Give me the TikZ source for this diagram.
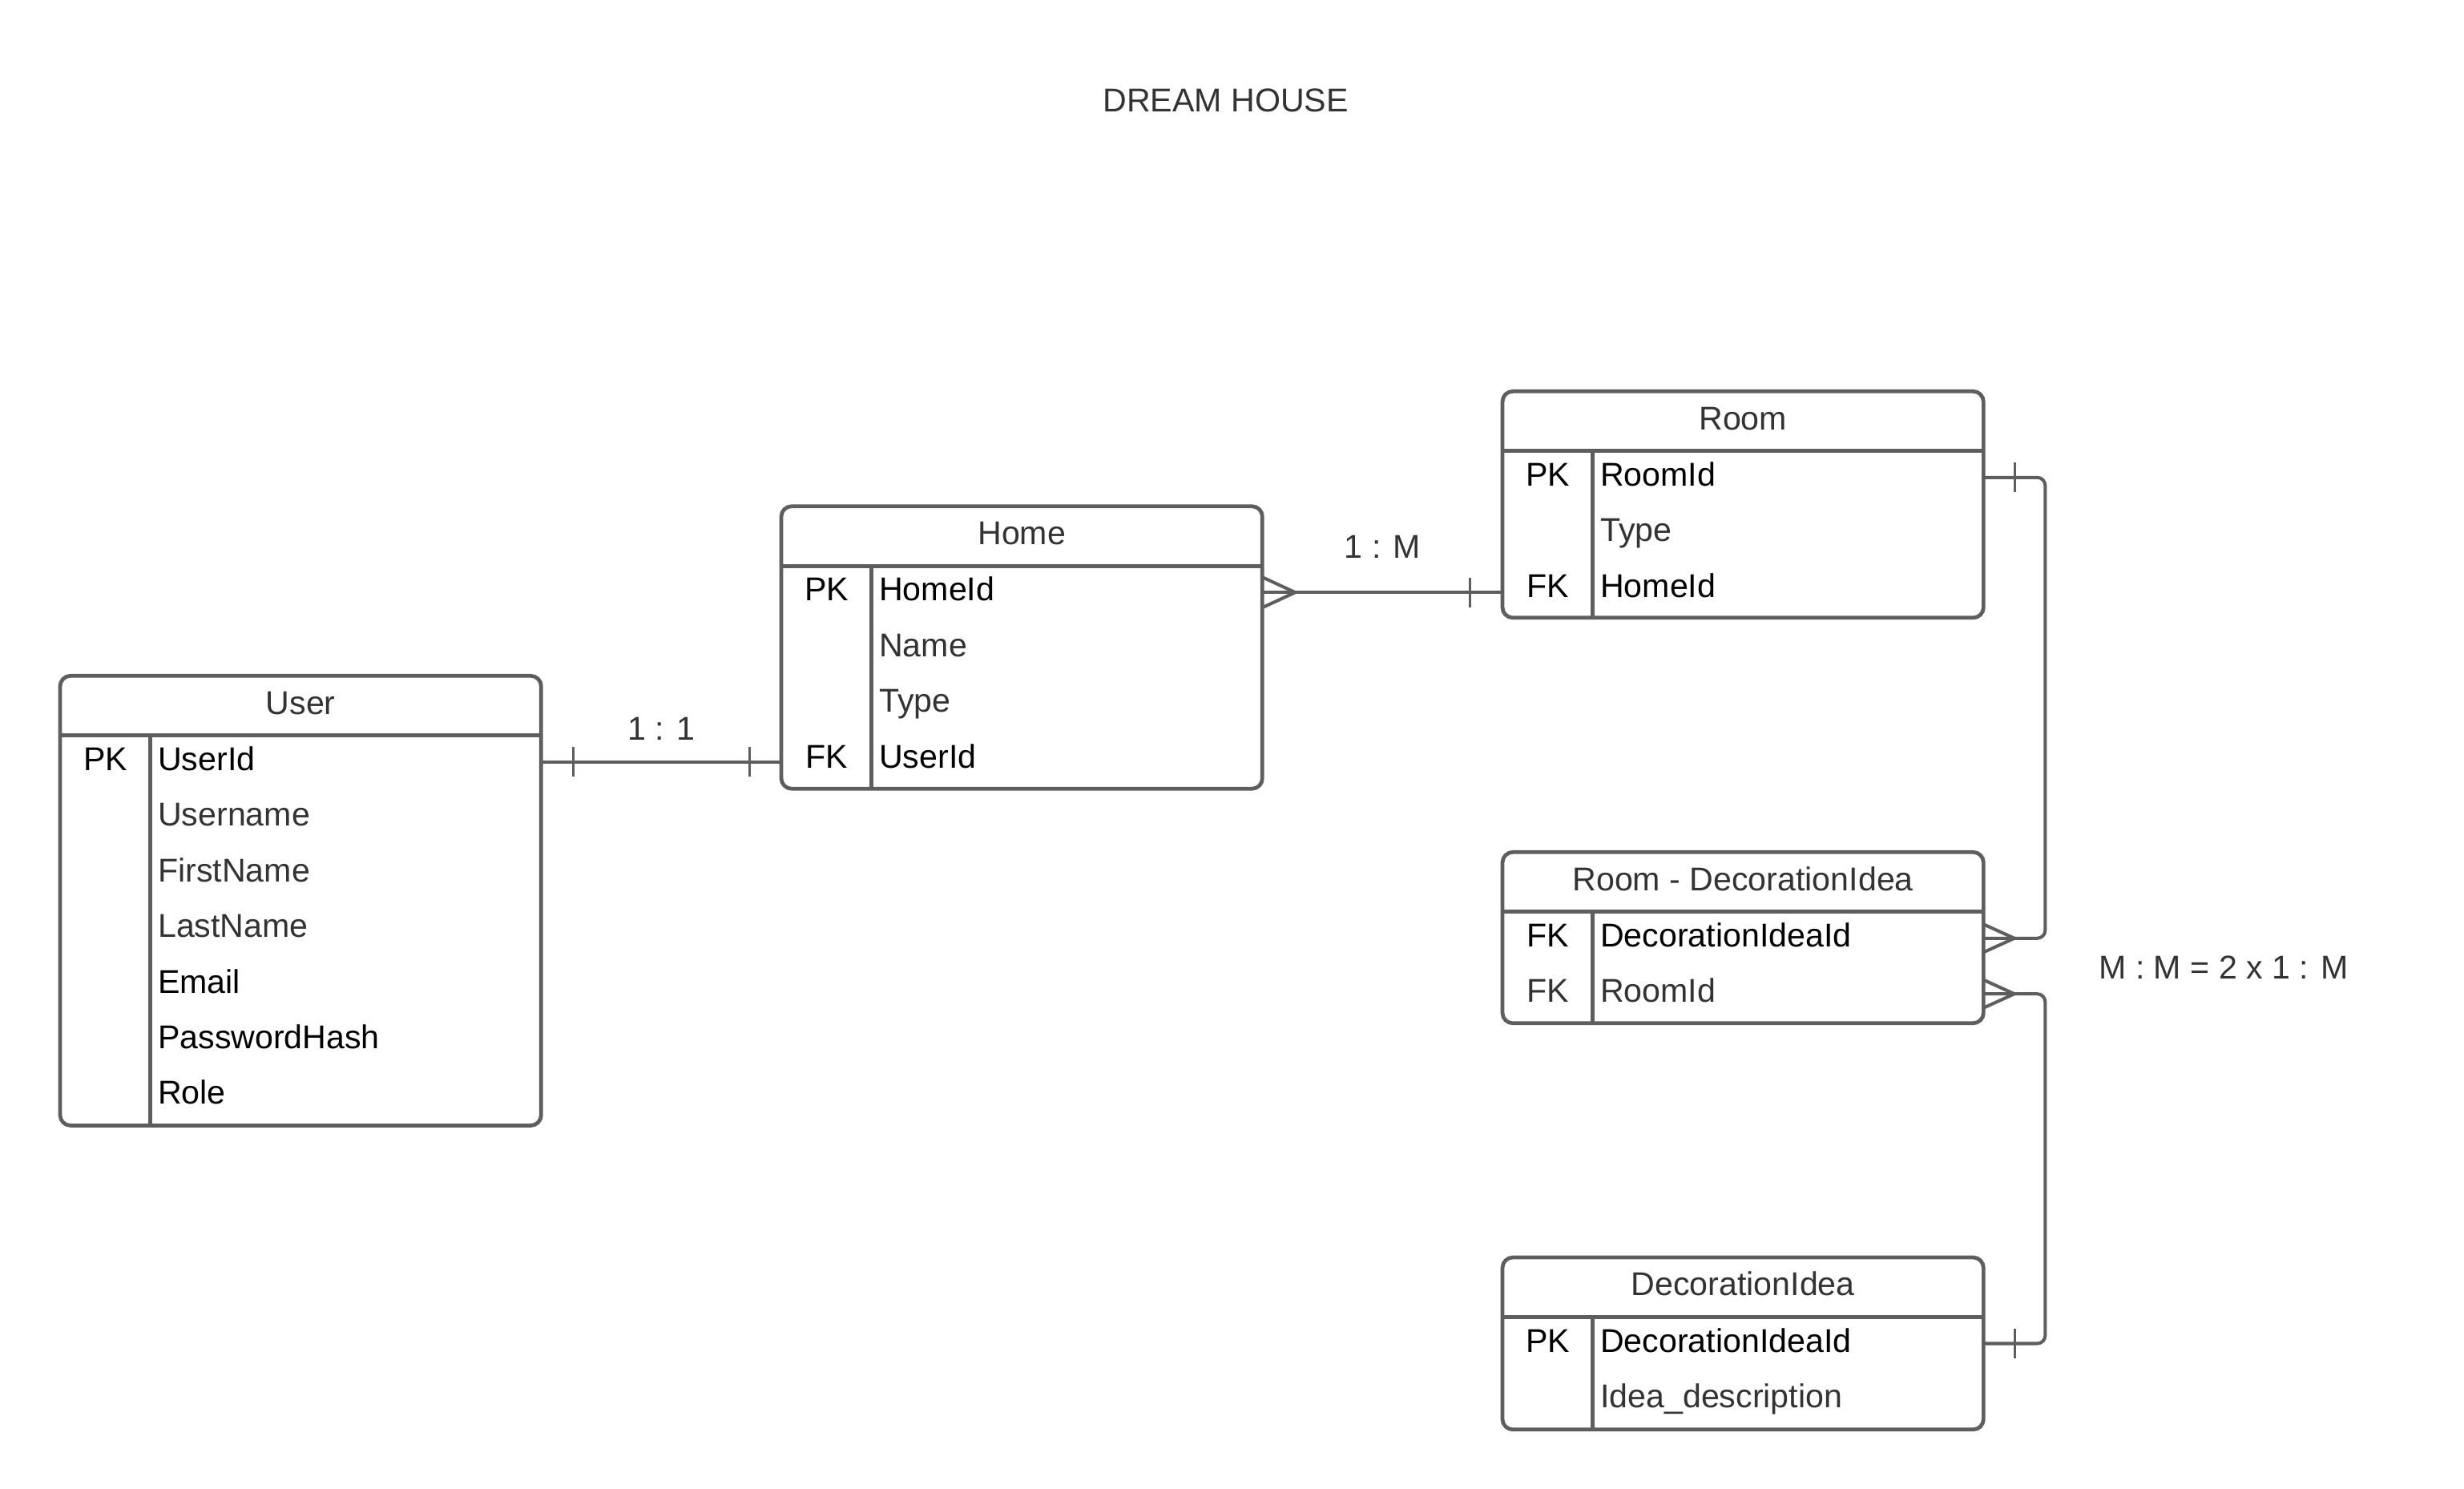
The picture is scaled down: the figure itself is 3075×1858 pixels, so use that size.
\documentclass[tikz,border=0pt]{standalone}
\usepackage{fontspec}
\setmainfont{Liberation Sans}
\usetikzlibrary{calc}
\definecolor{erline}{HTML}{5E5E5E}
\definecolor{ergray}{HTML}{333333}

\begin{document}
\begin{tikzpicture}[
    x=0.01cm, y=-0.01cm,
    every node/.style={font=\fontsize{11.7}{14}\selectfont, inner sep=0pt},
    entity/.style={draw=erline, line width=1.35pt, rounded corners=0.13cm,
                   minimum width=6cm, outer sep=0pt, anchor=north west},
    sep/.style={draw=erline, line width=1.35pt},
    entname/.style={anchor=base, text=ergray},
    keycol/.style={anchor=base},
    field/.style={anchor=base west},
    rel/.style={draw=erline, line width=1.15pt},
    onebar/.style={draw=erline, line width=0.85pt},
    card/.style={anchor=base, text=ergray}]

\fill[white] (0,0) rectangle (3075,1858);
\useasboundingbox (0,0) rectangle (3075,1858);

\node[card] (title) at (1529.5,140) {DREAM HOUSE};

\node[entity, minimum height=5.608cm] (user) at (75,843.3) {};
\node[entname] (user-name) at ($(user.north)+(0,47.95)$) {User};
\draw[sep] ($(user.north west)+(0,74.5)$) -- ($(user.north east)+(0,74.5)$);
\draw[sep] ($(user.north west)+(112.3,74.5)$) -- ($(user.south west)+(112.3,0)$);
\foreach \k/\f/\c [count=\i from 0] in {PK/UserId/black, /Username/ergray,
    /FirstName/ergray, /LastName/ergray, /Email/black, /PasswordHash/black, /Role/black} {
  \coordinate (user-r\i) at ($(user.north west)+(0,{107.5+69.4*\i})$);
  \node[keycol] (user-k\i) at ($(user.north west)+(56.5,{118.2+69.4*\i})$) {\k};
  \node[field, text=\c] (user-f\i) at ($(user.north west)+(121.5,{118.2+69.4*\i})$) {\f};
}

\node[entity, minimum height=3.523cm] (home) at (975,631.7) {};
\node[entname] (home-name) at ($(home.north)+(0,47.95)$) {Home};
\draw[sep] ($(home.north west)+(0,74.5)$) -- ($(home.north east)+(0,74.5)$);
\draw[sep] ($(home.north west)+(112.3,74.5)$) -- ($(home.south west)+(112.3,0)$);
\foreach \k/\f/\c [count=\i from 0] in {PK/HomeId/black, /Name/ergray,
    /Type/ergray, FK/UserId/black} {
  \coordinate (home-r\i) at ($(home.north west)+(0,{107.5+69.4*\i})$);
  \node[keycol] (home-k\i) at ($(home.north west)+(56.5,{118.2+69.4*\i})$) {\k};
  \node[field, text=\c] (home-f\i) at ($(home.north west)+(121.5,{118.2+69.4*\i})$) {\f};
}

\node[entity, minimum height=2.824cm] (room) at (1875,488.3) {};
\node[entname] (room-name) at ($(room.north)+(0,47.95)$) {Room};
\draw[sep] ($(room.north west)+(0,74.5)$) -- ($(room.north east)+(0,74.5)$);
\draw[sep] ($(room.north west)+(112.3,74.5)$) -- ($(room.south west)+(112.3,0)$);
\foreach \k/\f/\c [count=\i from 0] in {PK/RoomId/black, /Type/ergray, FK/HomeId/black} {
  \coordinate (room-r\i) at ($(room.north west)+(0,{107.5+69.4*\i})$);
  \node[keycol] (room-k\i) at ($(room.north west)+(56.5,{118.2+69.4*\i})$) {\k};
  \node[field, text=\c] (room-f\i) at ($(room.north west)+(121.5,{118.2+69.4*\i})$) {\f};
}

\node[entity, minimum height=2.134cm] (junc) at (1875,1063.3) {};
\node[entname] (junc-name) at ($(junc.north)+(0,47.95)$) {Room - DecorationIdea};
\draw[sep] ($(junc.north west)+(0,74.5)$) -- ($(junc.north east)+(0,74.5)$);
\draw[sep] ($(junc.north west)+(112.3,74.5)$) -- ($(junc.south west)+(112.3,0)$);
\foreach \k/\f/\c [count=\i from 0] in {FK/DecorationIdeaId/black, FK/RoomId/ergray} {
  \coordinate (junc-r\i) at ($(junc.north west)+(0,{107.5+69.4*\i})$);
  \node[keycol, text=\c] (junc-k\i) at ($(junc.north west)+(56.5,{118.2+69.4*\i})$) {\k};
  \node[field, text=\c] (junc-f\i) at ($(junc.north west)+(121.5,{118.2+69.4*\i})$) {\f};
}

\node[entity, minimum height=2.147cm] (deco) at (1875,1569) {};
\node[entname] (deco-name) at ($(deco.north)+(0,47.95)$) {DecorationIdea};
\draw[sep] ($(deco.north west)+(0,74.5)$) -- ($(deco.north east)+(0,74.5)$);
\draw[sep] ($(deco.north west)+(112.3,74.5)$) -- ($(deco.south west)+(112.3,0)$);
\foreach \k/\f/\c [count=\i from 0] in {PK/DecorationIdeaId/black, /Idea\_description/ergray} {
  \coordinate (deco-r\i) at ($(deco.north west)+(0,{107.5+69.4*\i})$);
  \node[keycol] (deco-k\i) at ($(deco.north west)+(56.5,{118.2+69.4*\i})$) {\k};
  \node[field, text=\c] (deco-f\i) at ($(deco.north west)+(121.5,{118.2+69.4*\i})$) {\f};
}

% 1 : 1
\draw[rel] (user.east |- user-r0) -- (home.west |- user-r0);
\draw[onebar] ($(user.east |- user-r0)+(40,-18.5)$) -- ++(0,37);
\draw[onebar] ($(home.west |- user-r0)+(-40,-18.5)$) -- ++(0,37);
\node[card] (card-uh) at (825,923) {1 : 1};

% 1 : M
\draw[rel] (home.east |- home-r0) -- (room.west |- home-r0);
\draw[rel] ($(home.east |- home-r0)+(0,-19)$) -- ++(41,19) -- ++(-41,19);
\draw[onebar] ($(room.west |- home-r0)+(-41,-18.5)$) -- ++(0,37);
\node[card] (card-hr) at (1725.5,696.4) {1 : M};

% M : M
\draw[rel, rounded corners=0.1cm] (room.east |- room-r0) -- ++(77,0) |- (junc.east |- junc-r0);
\draw[onebar] ($(room.east |- room-r0)+(39.5,-18.5)$) -- ++(0,37);
\draw[rel] ($(junc.east |- junc-r0)+(0,-17.5)$) -- ++(38.5,17.5) -- ++(-38.5,17.5);
\draw[rel, rounded corners=0.1cm] (junc.east |- junc-r1) -- ++(77,0) |- (deco.east |- deco-r0);
\draw[rel] ($(junc.east |- junc-r1)+(0,-17.5)$) -- ++(38.5,17.5) -- ++(-38.5,17.5);
\draw[onebar] ($(deco.east |- deco-r0)+(39,-18.5)$) -- ++(0,37);
\node[card, anchor=base west] (card-mm) at (2618.7,1221.4) {M : M = 2 x 1 : M};

\end{tikzpicture}
\end{document}
